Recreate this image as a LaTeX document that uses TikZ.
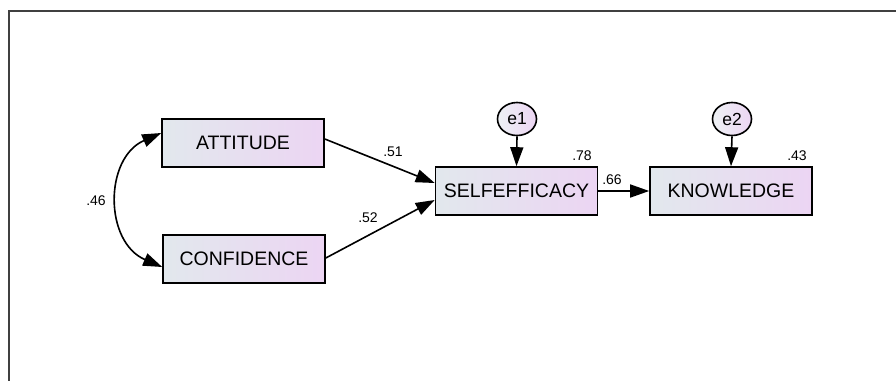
\documentclass[tikz,border=0pt]{standalone}
\usepackage{fontspec}
\setmainfont{Liberation Sans}
\usetikzlibrary{arrows.meta,shapes.geometric}
\definecolor{boxLeft}{RGB}{226,232,237}
\definecolor{boxRight}{RGB}{236,213,243}
\begin{document}
\begin{tikzpicture}[%
  x=1pt,y=-1pt,%
  frameStyle/.style={line width=1.4pt,black!75},%
  boxStyle/.style={draw,line width=1.6pt,rectangle,minimum width=162pt,%
    minimum height=48pt,inner sep=0pt,left color=boxLeft,right color=boxRight,%
    font=\fontsize{19.5}{22}\selectfont},%
  errStyle/.style={draw,line width=1.6pt,ellipse,minimum width=39pt,%
    minimum height=33pt,inner sep=0pt,left color=boxLeft!60!white,%
    right color=boxRight,font=\fontsize{17.5}{20}\selectfont},%
  pathStyle/.style={-{Triangle[length=19pt,width=13pt]},line width=1.6pt},%
  labelStyle/.style={inner sep=0pt,font=\fontsize{14}{16}\selectfont}%
]
\useasboundingbox (0,0) rectangle (896,381);
%
% Frame of the screenshot.
\draw[frameStyle] (896,11) -- (9,11) -- (9,381);
%
% Observed variables.
\node[boxStyle] (attitude) at (243,143) {ATTITUDE};
\node[boxStyle] (confidence) at (244,259) {CONFIDENCE};
\node[boxStyle] (selfefficacy) at (516.5,191) {SELFEFFICACY};
\node[boxStyle] (knowledge) at (731,191) {KNOWLEDGE};
%
% Error terms.
\node[errStyle] (e1) at (517,119) {e1};
\node[errStyle] (e2) at (732,119) {e2};
%
% Paths.
\draw[pathStyle] ([yshift=4pt]attitude.east) -- ([yshift=8pt]selfefficacy.west);
\draw[pathStyle] ([yshift=1pt]confidence.east) -- ([yshift=-9pt]selfefficacy.west);
\draw[pathStyle] (selfefficacy.east) -- (knowledge.west);
\draw[pathStyle] (e1.south) -- (selfefficacy.north);
\draw[pathStyle] (e2.south) -- (knowledge.north);
%
% Covariance.
\draw[{Triangle[length=19pt,width=13pt]}-{Triangle[length=19pt,width=13pt]},line width=1.6pt]
  ([yshift=10pt]attitude.west) .. controls (104,158) and (104,242) ..
  ([yshift=-8pt]confidence.west);
%
% Estimates.
\node[labelStyle] (covAC) at (96,201) {.46};
\node[labelStyle] (pathAS) at (393,152) {.51};
\node[labelStyle] (pathCS) at (368,218) {.52};
\node[labelStyle] (pathSK) at (612,180) {.66};
\node[labelStyle] (rsqS) at (582,156) {.78};
\node[labelStyle] (rsqK) at (797,156) {.43};
\end{tikzpicture}
\end{document}
